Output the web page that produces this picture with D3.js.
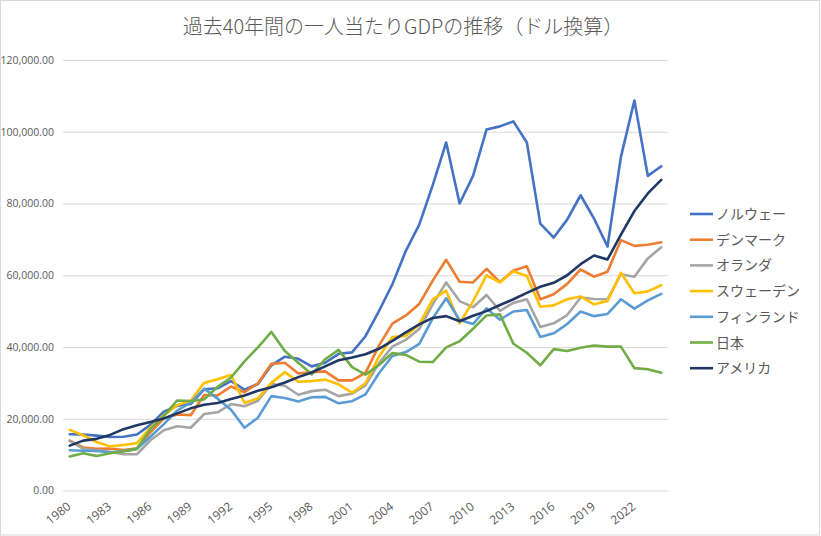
<!DOCTYPE html>
<html>
<head>
<meta charset="utf-8">
<script src="https://cdn.jsdelivr.net/npm/d3@7"></script>
<style>
  body { margin: 0; background: #fff; }
  svg { display: block; font-family: "Noto Sans CJK JP", "Noto Sans", sans-serif; }
</style>
</head>
<body>
<div id="chart"></div>
<script>
// data: GDP per capita (USD), 1980-2024
var years = d3.range(1980, 2025);
var seriesNames = ["ノルウェー", "デンマーク", "オランダ", "スウェーデン", "フィンランド", "日本", "アメリカ"];
var seriesColors = ["#4472C4", "#ED7D31", "#A5A5A5", "#FFC000", "#5B9BD5", "#70AD47", "#1F3864"];

var norway = [15700, 15600, 15300, 14900, 15000, 15600, 18300, 22000, 23600, 24100, 28200, 28500, 30500, 28100, 29700, 34900, 37300, 36700, 34600, 35600, 38100, 38500, 43000, 50000, 57500, 66800, 74100, 85100, 97000, 80000, 87700, 100600, 101500, 102900, 97000, 74400, 70500, 75500, 82300, 75800, 68000, 93000, 108700, 87700, 90400];
var denmark = [13900, 12000, 11600, 11700, 11300, 11800, 16200, 20100, 21200, 21000, 26600, 26500, 29000, 27400, 29900, 35300, 35600, 32600, 33000, 33200, 30700, 30700, 32800, 40400, 46500, 48800, 52000, 58500, 64300, 58200, 58000, 61800, 58100, 61300, 62500, 53300, 54700, 57600, 61600, 59600, 61000, 69800, 68200, 68500, 69200];
var netherlands = [13800, 11600, 11200, 10800, 10100, 10100, 14000, 16800, 17900, 17500, 21300, 21800, 24100, 23500, 25000, 29700, 29200, 26700, 27700, 28100, 26300, 27000, 29300, 35500, 40100, 42000, 45000, 51900, 58000, 52800, 51100, 54500, 50100, 52300, 53300, 45600, 46600, 48900, 53800, 53400, 53300, 60300, 59600, 64700, 67800];
var sweden = [16900, 15400, 13500, 12300, 12700, 13200, 17500, 21000, 23800, 25000, 30000, 31000, 32200, 24400, 25700, 30000, 33000, 30300, 30500, 30900, 29600, 27300, 29900, 37300, 42800, 43100, 46300, 53300, 55700, 46600, 52700, 60000, 58000, 61100, 59800, 51200, 51600, 53300, 54100, 51900, 52800, 60700, 55000, 55500, 57200];
var finland = [11200, 11100, 11000, 10600, 11000, 11600, 15000, 18500, 22300, 24500, 28400, 25600, 22500, 17500, 20300, 26300, 25800, 24800, 26000, 26100, 24300, 24900, 26800, 32700, 37500, 38600, 40900, 48000, 53600, 47500, 46400, 50800, 47600, 49900, 50300, 42800, 43800, 46400, 49900, 48600, 49200, 53300, 50700, 53000, 54800];
var japan = [9500, 10400, 9600, 10400, 10900, 11600, 17100, 20800, 25100, 24900, 25400, 28900, 31500, 36000, 39900, 44200, 38900, 35600, 32400, 36600, 39200, 34400, 32300, 35000, 38300, 37800, 35900, 35800, 39900, 41600, 45100, 48800, 49100, 40900, 38400, 34900, 39400, 38900, 39800, 40400, 40100, 40100, 34100, 33800, 32800];
var usa = [12500, 13900, 14400, 15500, 17100, 18200, 19100, 20100, 21500, 22900, 23900, 24400, 25500, 26500, 27800, 28800, 30100, 31600, 32900, 34600, 36300, 37100, 38000, 39500, 41700, 44100, 46300, 48100, 48600, 47200, 48700, 50000, 51700, 53300, 55100, 56800, 57900, 60000, 63100, 65500, 64400, 71300, 77900, 82800, 86600];

var yTicks = [0, 20000, 40000, 60000, 80000, 100000, 120000];
var xTickYears = d3.range(1980, 2023, 3);

var seriesValues = [norway, denmark, netherlands, sweden, finland, japan, usa];

var width = 821;
var height = 536;

var svg = d3.select("#chart")
  .append("svg")
  .attr("width", width)
  .attr("height", height);

// chart border
svg.append("rect")
  .attr("x", 0.5).attr("y", 0.5)
  .attr("width", width - 2).attr("height", height - 1.5)
  .attr("fill", "#fff")
  .attr("stroke", "#d9d9d9");

svg.append("text")
  .attr("x", 403)
  .attr("y", 34)
  .attr("text-anchor", "middle")
  .attr("font-size", 20)
  .attr("font-weight", 300)
  .attr("fill", "#595959")
  .text("過去40年間の一人当たりGDPの推移（ドル換算）");

var xScale = d3.scaleBand()
  .domain(years)
  .range([63, 668])
  .padding(0);

var yScale = d3.scaleLinear()
  .domain([0, 120000])
  .range([490.5, 60]);

function xc(yr) { return xScale(yr) + xScale.bandwidth() / 2; }

// gridlines + y labels
var yAxis = d3.axisLeft(yScale)
  .tickValues(yTicks)
  .tickFormat(d3.format(",.2f"))
  .tickSize(-(668 - 63))
  .tickPadding(9);

var gy = svg.append("g")
  .attr("transform", "translate(63,0)")
  .call(yAxis);
gy.select(".domain").remove();
gy.selectAll("line").attr("stroke", "#d9d9d9").attr("stroke-width", 1);
gy.selectAll("text")
  .attr("fill", "#595959")
  .attr("font-size", 10.5)
  .attr("font-family", "Open Sans, Noto Sans, sans-serif");

// x labels, rotated
svg.append("g")
  .selectAll("text")
  .data(xTickYears)
  .join("text")
  .attr("transform", function(d) {
    return "translate(" + (xc(d) + 2) + "," + 508 + ") rotate(-38)";
  })
  .attr("text-anchor", "end")
  .attr("fill", "#595959")
  .attr("font-size", 12)
  .attr("font-family", "Open Sans, Noto Sans, sans-serif")
  .text(function(d) { return d; });

// lines
var line = d3.line()
  .x(function(d, i) { return xc(years[i]); })
  .y(function(d) { return yScale(d); });

seriesValues.forEach(function(vals, k) {
  svg.append("path")
    .datum(vals)
    .attr("fill", "none")
    .attr("stroke", seriesColors[k])
    .attr("stroke-width", 2.6)
    .attr("stroke-linejoin", "round")
    .attr("stroke-linecap", "round")
    .attr("d", line);
});

// legend
var legend = svg.append("g").attr("transform", "translate(690,214)");
seriesNames.forEach(function(name, k) {
  var g = legend.append("g").attr("transform", "translate(0," + (k * 25.7) + ")");
  g.append("line")
    .attr("x1", 0).attr("x2", 23)
    .attr("stroke", seriesColors[k])
    .attr("stroke-width", 2.6);
  g.append("text")
    .attr("x", 26)
    .attr("y", 5)
    .attr("font-size", 14)
    .attr("fill", "#595959")
    .text(name);
});
</script>
</body>
</html>
